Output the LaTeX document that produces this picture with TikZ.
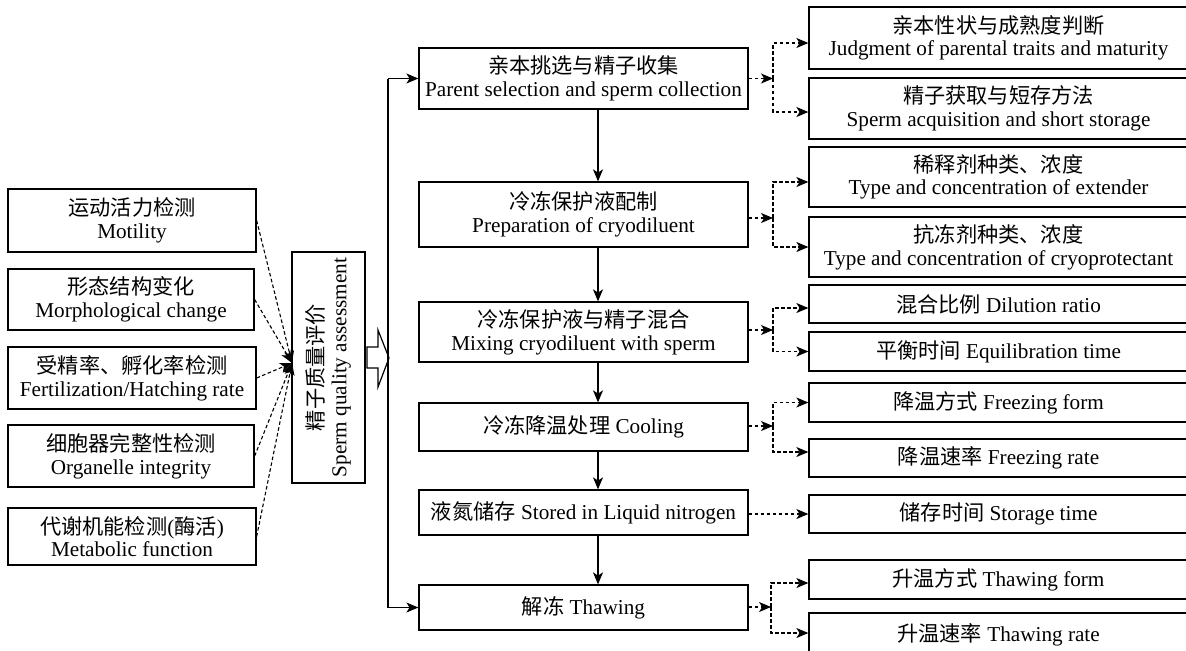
\documentclass[tikz,border=0pt]{standalone}
\usepackage{fontspec}
\setmainfont{Liberation Serif}
\newfontfamily\cjk{Noto Sans CJK SC}
\usetikzlibrary{arrows.meta,calc}
\newcommand\mybox[7][]{%
  \pgfmathsetmacro\bcx{(#3+#5)/2}\pgfmathsetmacro\bcy{(#4+#6)/2}%
  \pgfmathsetmacro\bww{(#5-#3)*0.5}\pgfmathsetmacro\bhh{(#6-#4)*0.5}%
  \node[boxst, minimum width=\bww pt, minimum height=\bhh pt, #1] (#2) at (\bcx,\bcy) {#7};}
\begin{document}
\begin{tikzpicture}[x=0.5pt,y=-0.5pt,
  boxst/.style={draw, line width=0.65pt, inner sep=0pt, align=center,
     font=\fontsize{10.6}{11.3}\selectfont},
  arr/.style={line width=0.55pt, -{Stealth[length=6pt,width=5pt,inset=1.6pt]}},
  darr/.style={arr, dash pattern=on 1.8pt off 1.2pt},
  dline/.style={line width=0.55pt, dash pattern=on 1.8pt off 1.2pt}]
\useasboundingbox (0,0) rectangle (1186,650);
\clip (0,0) rectangle (1186,650);
% left column
\mybox{l1}{8}{189}{256}{252}{{\cjk 运动活力检测}\\Motility}
\mybox{l2}{8}{269}{254}{330}{{\cjk 形态结构变化}\\Morphological change}
\mybox{l3}{8}{347}{256}{409}{{\cjk 受精率、孵化率检测}\\Fertilization/Hatching rate}
\mybox{l4}{8}{425}{254}{487}{{\cjk 细胞器完整性检测}\\Organelle integrity}
\mybox{l5}{8}{508}{256}{565}{{\cjk 代谢机能检测}({\cjk 酶活})\\Metabolic function}
% assessment box (rotated)
\node[boxst, rotate=90, minimum width=115.5pt, minimum height=36.5pt] (vb) at (328.5,367.5)
  {{\cjk 精子质量评价}\\Sperm quality assessment};
\coordinate (conv) at (292,363);
\foreach \n in {l1,l2,l3,l4,l5} \draw[darr] (\n.east) -- (conv);
% hollow arrow
\draw[line width=0.6pt, fill=white] (367,347) -- (378,347) -- (378,330) -- (389,358)
  -- (378,387) -- (378,368) -- (367,368) -- cycle;
% center column
\mybox{p1}{419}{48}{748}{109}{{\cjk 亲本挑选与精子收集}\\Parent selection and sperm collection}
\mybox{p2}{419}{182}{748}{247}{{\cjk 冷冻保护液配制}\\Preparation of cryodiluent}
\mybox{p3}{419}{302}{748}{362}{{\cjk 冷冻保护液与精子混合}\\Mixing cryodiluent with sperm}
\mybox{p4}{419}{403}{748}{451}{{\cjk 冷冻降温处理} Cooling}
\mybox{p5}{419}{490}{748}{535}{{\cjk 液氮储存} Stored in Liquid nitrogen}
\mybox{p6}{419}{585}{748}{630}{{\cjk 解冻} Thawing}
% trunk
\coordinate (tx) at (388,0);
\draw[line width=0.55pt] (p1.west -| tx) -- (p6.west -| tx);
\draw[arr] (p1.west -| tx) -- (p1.west);
\draw[arr] (p6.west -| tx) -- (p6.west);
% vertical arrows
\coordinate (ax) at (598,0);
\draw[arr] (p1.south -| ax) -- (p2.north -| ax);
\draw[arr] (p2.south -| ax) -- (p3.north -| ax);
\draw[arr] (p3.south -| ax) -- (p4.north -| ax);
\draw[arr] (p4.south -| ax) -- (p5.north -| ax);
\draw[arr] (p5.south -| ax) -- (p6.north -| ax);
% right column
\mybox{r1}{809}{7}{1188}{69}{{\cjk 亲本性状与成熟度判断}\\Judgment of parental traits and maturity}
\mybox{r2}{809}{78}{1188}{139}{{\cjk 精子获取与短存方法}\\Sperm acquisition and short storage}
\mybox{r3}{809}{147}{1188}{207}{{\cjk 稀释剂种类、浓度}\\Type and concentration of extender}
\mybox{r4}{809}{217}{1188}{277}{{\cjk 抗冻剂种类、浓度}\\Type and concentration of cryoprotectant}
\mybox{r5}{809}{285}{1188}{323}{{\cjk 混合比例} Dilution ratio}
\mybox{r6}{809}{332}{1188}{371}{{\cjk 平衡时间} Equilibration time}
\mybox{r7}{809}{383}{1188}{422}{{\cjk 降温方式} Freezing form}
\mybox{r8}{809}{439}{1188}{477}{{\cjk 降温速率} Freezing rate}
\mybox{r9}{809}{495}{1188}{533}{{\cjk 储存时间} Storage time}
\mybox{r10}{809}{560}{1188}{599}{{\cjk 升温方式} Thawing form}
\mybox{r11}{809}{613}{1188}{657}{{\cjk 升温速率} Thawing rate}
% junctions
\coordinate (j1) at (773,78.5);
\coordinate (j2) at (773,218);
\coordinate (j3) at (773,330);
\coordinate (j4) at (773,426);
\coordinate (j6) at (771,607);
\draw[darr] (p1.east |- j1) -- (j1);
\draw[darr] (j1) |- ([yshift=-2.5pt]r1.west);
\draw[darr] (j1) |- ([yshift=-1.75pt]r2.west);
\draw[darr] (p2.east |- j2) -- (j2);
\draw[darr] (j2) |- ([yshift=-2.5pt]r3.west);
\draw[darr] (j2) |- (r4.west);
\draw[darr] (p3.east |- j3) -- (j3);
\draw[darr] (j3) |- ([yshift=-2pt]r5.west);
\draw[darr] (j3) |- (r6.west);
\draw[darr] (p4.east |- j4) -- (j4);
\draw[darr] (j4) |- (r7.west);
\draw[darr] (j4) |- ([yshift=3pt]r8.west);
\draw[darr] (p5.east |- r9.west) -- (r9.west);
\draw[darr] (p6.east |- j6) -- (j6);
\draw[darr] (j6) |- ([yshift=-1.75pt]r10.west);
\draw[darr] (j6) |- ([yshift=1pt]r11.west);
\end{tikzpicture}
\end{document}
